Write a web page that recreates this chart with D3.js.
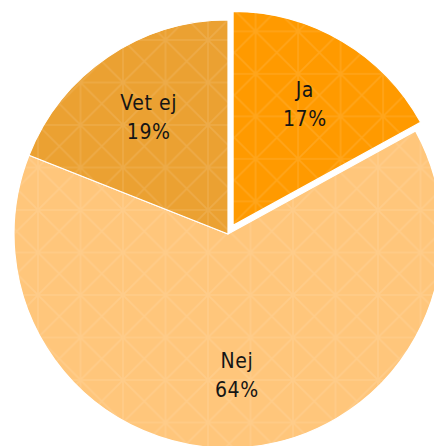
<!DOCTYPE html>
<html>
<head>
<meta charset="utf-8">
<script src="https://cdn.jsdelivr.net/npm/d3@7"></script>
<style>
  body { margin: 0; background: #fff; }
  svg { display: block; }
</style>
</head>
<body>
<div id="chart"></div>
<script>
// answers, in drawing order (clockwise from 12 o'clock)
const categories = ['Ja', 'Nej', 'Vet ej'];
const shares = [17, 64, 19];
const shareLabels = ['17%', '64%', '19%'];
const explodedSlices = ['Ja'];

const width = 434, height = 446;
const cx = 228, cy = 234, radius = 214;
const explodeBy = 10;
const labelRadius = 141;
const tile = 42.5;

const color = d3.scaleOrdinal()
  .domain(categories)
  .range(['#ff9a00', '#ffc67b', '#eba132']);

const svg = d3.select('#chart')
  .append('svg')
    .attr('width', width)
    .attr('height', height);

// crossed square pattern, one per slice colour
const defs = svg.append('defs');
categories.forEach((c, i) => {
  const p = defs.append('pattern')
    .attr('id', 'pat' + i)
    .attr('patternUnits', 'userSpaceOnUse')
    .attr('x', 38 - cx)
    .attr('y', 40 - cy)
    .attr('width', tile)
    .attr('height', tile);
  p.append('rect')
    .attr('width', tile)
    .attr('height', tile)
    .attr('fill', color(c));
  p.append('path')
    .attr('d', `M0,0 L${tile},${tile} M${tile},0 L0,${tile} M0,0 L${tile},0 M0,0 L0,${tile} M0,${tile} L${tile},${tile} M${tile},0 L${tile},${tile}`)
    .attr('fill', 'none')
    .attr('stroke', '#fff')
    .attr('stroke-opacity', 0.11)
    .attr('stroke-width', 1.6);
});

const data = categories.map((c, i) => ({name: c, value: shares[i], label: shareLabels[i], idx: i}));

const pie = d3.pie()
  .sort(null)
  .value(d => d.value);

const arc = d3.arc()
  .innerRadius(0)
  .outerRadius(radius);

const labelArc = d3.arc()
  .innerRadius(labelRadius)
  .outerRadius(labelRadius);

const arcs = pie(data);

const g = svg.append('g')
  .attr('transform', `translate(${cx},${cy})`);

function shift(d) {
  if (explodedSlices.indexOf(d.data.name) < 0) return [0, 0];
  const a = (d.startAngle + d.endAngle) / 2;
  return [Math.sin(a) * explodeBy, -Math.cos(a) * explodeBy];
}

const slice = g.selectAll('g.slice')
  .data(arcs).enter().append('g')
    .attr('class', 'slice')
    .attr('transform', d => `translate(${shift(d)})`);

slice.append('path')
  .attr('d', arc)
  .attr('fill', d => `url(#pat${d.data.idx})`)
  .attr('stroke', '#fff')
  .attr('stroke-width', 1.2)
  .attr('stroke-linejoin', 'round');

const txt = slice.append('text')
  .attr('transform', d => `translate(${labelArc.centroid(d)})`)
  .attr('text-anchor', 'middle')
  .style('font-family', '"DejaVu Sans Condensed", "DejaVu Sans", sans-serif')
  .style('font-stretch', 'condensed')
  .style('font-size', '21px')
  .style('letter-spacing', '0.6px')
  .style('fill', '#151515');

txt.append('tspan')
  .attr('x', 0)
  .attr('y', -7)
  .text(d => d.data.name);

txt.append('tspan')
  .attr('x', 0)
  .attr('y', 22)
  .text(d => d.data.label);
</script>
</body>
</html>
